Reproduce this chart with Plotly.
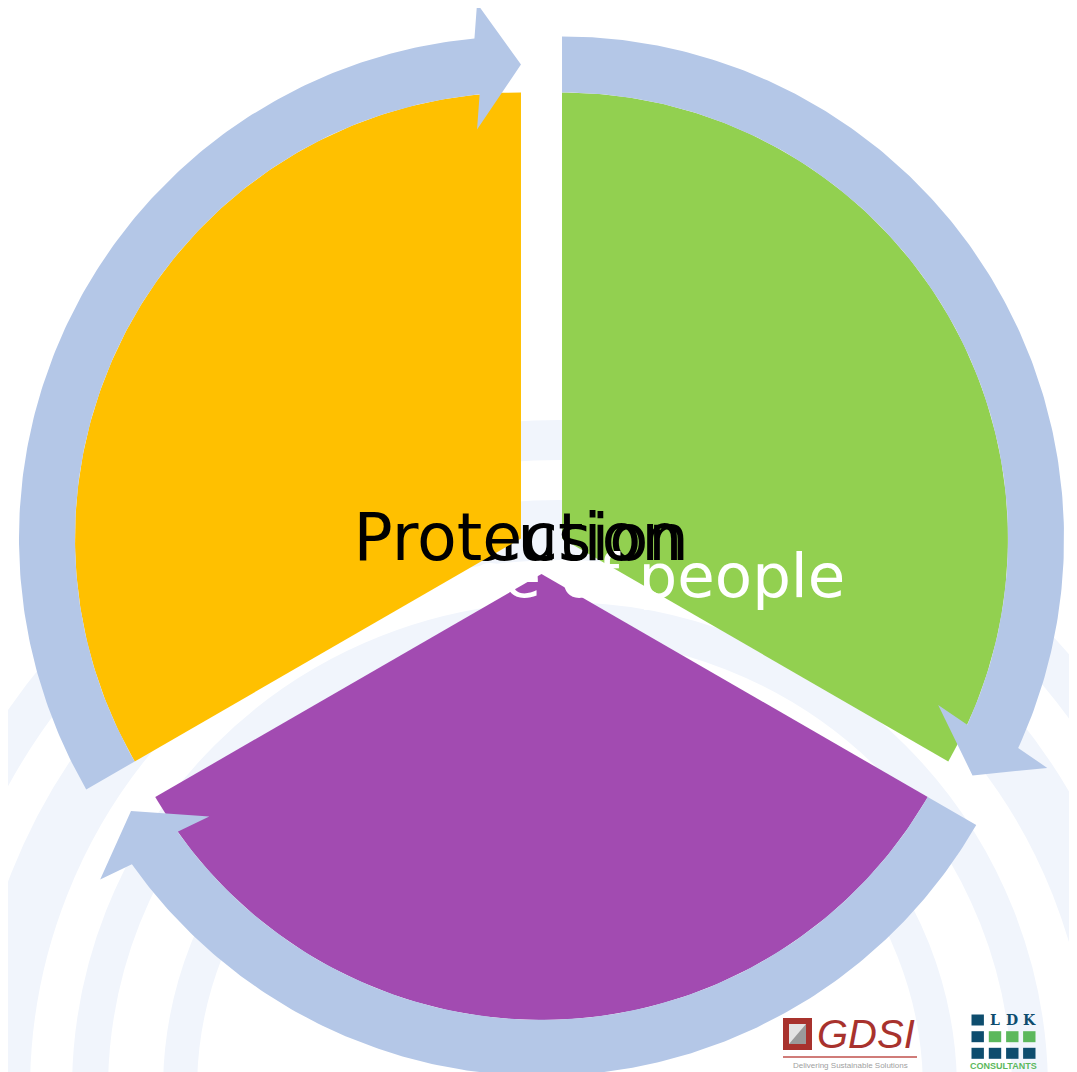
import numpy as np
import plotly.graph_objects as go

# ---------------- data ----------------
labels = ["Inclusion", "Voice of people", "Protection"]
values = [1, 1, 1]
seg_colors = ["#92D050", "#A24BB1", "#FFC000"]
text_colors = ["#000000", "#FFFFFF", "#000000"]
text_sizes = [64, 61, 65]
text_pos = [(547, 544), (612, 582), (518, 544)]  # label anchor per segment
arrow_color = "#B4C7E7"

# ---------------- layout constants ----------------
W, H = 1077, 1072
OFF = 8  # page body margin compensation
CX, CY = 541.5, 550.3
EXPLODE = 23.7
R = 446
RING_IN, RING_OUT = 446, 502
HEAD_HALF = 63
HEAD_LEN = 44
FONT = "DejaVu Sans"

total = float(sum(values))
mid_r = (RING_IN + RING_OUT) / 2.0


def pt(cx, cy, r, ang_deg):
    a = np.radians(ang_deg)
    return cx + r * np.cos(a), cy - r * np.sin(a)


fig = go.Figure()

# background watermark rings (very faint)
shapes = []
for rr, wdt in [(380, 34), (470, 36), (560, 60), (650, 40)]:
    shapes.append(dict(type="circle", xref="x", yref="y", layer="below",
                       x0=560 - rr, x1=560 + rr, y0=1090 - rr, y1=1090 + rr,
                       line=dict(color="#F1F5FC", width=wdt),
                       fillcolor="rgba(0,0,0,0)"))

segments = []
cum = 0.0
for i, v in enumerate(values):
    a0 = 90 - cum / total * 360
    a1 = a0 - v / total * 360
    cum += v
    b = (a0 + a1) / 2
    ex, ey = pt(CX, CY, EXPLODE, b)
    segments.append((a0, a1, ex, ey))

# segments with their labels (label drawn right after its segment)
for i, (a0, a1, ex, ey) in enumerate(segments):
    t = np.linspace(a0, a1, 200)
    xs, ys = pt(ex, ey, R, t)
    xs = np.concatenate([[ex], xs, [ex]])
    ys = np.concatenate([[ey], ys, [ey]])
    fig.add_trace(go.Scatter(x=xs, y=ys, fill="toself", fillcolor=seg_colors[i],
                             mode="lines", line=dict(width=0, color=seg_colors[i]),
                             hoverinfo="skip", showlegend=False))
    fig.add_trace(go.Scatter(x=[text_pos[i][0]], y=[text_pos[i][1]], mode="text",
                             text=[labels[i]], textposition="middle center",
                             textfont=dict(family=FONT, size=text_sizes[i], color=text_colors[i]),
                             hoverinfo="skip", showlegend=False, cliponaxis=False))

# circular arrows
for i, (a0, a1, ex, ey) in enumerate(segments):
    head_deg = np.degrees(HEAD_LEN / mid_r)
    ah = a1 + head_deg
    t = np.linspace(a0, ah, 200)
    ox, oy = pt(ex, ey, RING_OUT, t)
    ix, iy = pt(ex, ey, RING_IN, t[::-1])
    bx, by = pt(ex, ey, mid_r, ah)
    ua = np.radians(a1)
    ux, uy = np.cos(ua), -np.sin(ua)
    tx, ty = pt(ex, ey, mid_r, a1)
    xs = np.concatenate([ox, [bx + HEAD_HALF * ux, tx, bx - HEAD_HALF * ux], ix, [ox[0]]])
    ys = np.concatenate([oy, [by + HEAD_HALF * uy, ty, by - HEAD_HALF * uy], iy, [oy[0]]])
    fig.add_trace(go.Scatter(x=xs, y=ys, fill="toself", fillcolor=arrow_color,
                             mode="lines", line=dict(width=0, color=arrow_color),
                             hoverinfo="skip", showlegend=False))

# ---------------- logos ----------------
annotations = []
# GDSI
shapes.append(dict(type="rect", xref="x", yref="y", x0=783, x1=812, y0=1018, y1=1050,
                   fillcolor="#A8322D", line=dict(width=0)))
shapes.append(dict(type="rect", xref="x", yref="y", x0=789, x1=806, y0=1024, y1=1044,
                   fillcolor="#E3E3E3", line=dict(width=0)))
shapes.append(dict(type="path", xref="x", yref="y",
                   path="M 789 1044 L 806 1024 L 806 1044 Z", fillcolor="#9A9A9A", line=dict(width=0)))
annotations.append(dict(x=866, y=1034, xref="x", yref="y", text="<i>GDSI</i>", showarrow=False,
                        font=dict(family="Liberation Sans Narrow, Liberation Sans", size=40, color="#A8322D")))
shapes.append(dict(type="line", xref="x", yref="y", x0=783, x1=917, y0=1057, y1=1057,
                   line=dict(color="#C0504D", width=1.5)))
annotations.append(dict(x=850, y=1065, xref="x", yref="y", text="Delivering Sustainable Solutions",
                        showarrow=False, font=dict(family="Liberation Sans", size=8, color="#A0A0A0")))
# LDK
cols = [977.7, 995, 1012.3, 1029.3]
rows = [1020, 1036.7, 1053.3]
grid = [["b", None, None, None], ["b", "g", "g", "g"], ["b", "b", "b", "b"]]
cmap = {"b": "#0E4D6E", "g": "#5CB85C"}
for ri, row in enumerate(grid):
    for ci, c in enumerate(row):
        if c:
            shapes.append(dict(type="rect", xref="x", yref="y",
                               x0=cols[ci] - 6.2, x1=cols[ci] + 6.2,
                               y0=rows[ri] - 5.5, y1=rows[ri] + 5.5,
                               fillcolor=cmap[c], line=dict(width=0)))
for ci, ch in zip([1, 2, 3], ["L", "D", "K"]):
    annotations.append(dict(x=cols[ci], y=1020, xref="x", yref="y", text="<b>%s</b>" % ch,
                            showarrow=False, font=dict(family="DejaVu Serif", size=14, color="#0E4D6E")))
annotations.append(dict(x=1003.5, y=1066, xref="x", yref="y", text="<b>CONSULTANTS</b>",
                        showarrow=False, font=dict(family="Liberation Sans", size=9, color="#5CB85C")))

fig.update_layout(
    width=W, height=H,
    margin=dict(l=0, r=0, t=0, b=0),
    paper_bgcolor="white", plot_bgcolor="white",
    xaxis=dict(range=[OFF, W + OFF], visible=False, fixedrange=True),
    yaxis=dict(range=[H + OFF, OFF], visible=False, fixedrange=True),
    shapes=shapes, annotations=annotations,
    showlegend=False,
)

fig.write_html("out.html")
